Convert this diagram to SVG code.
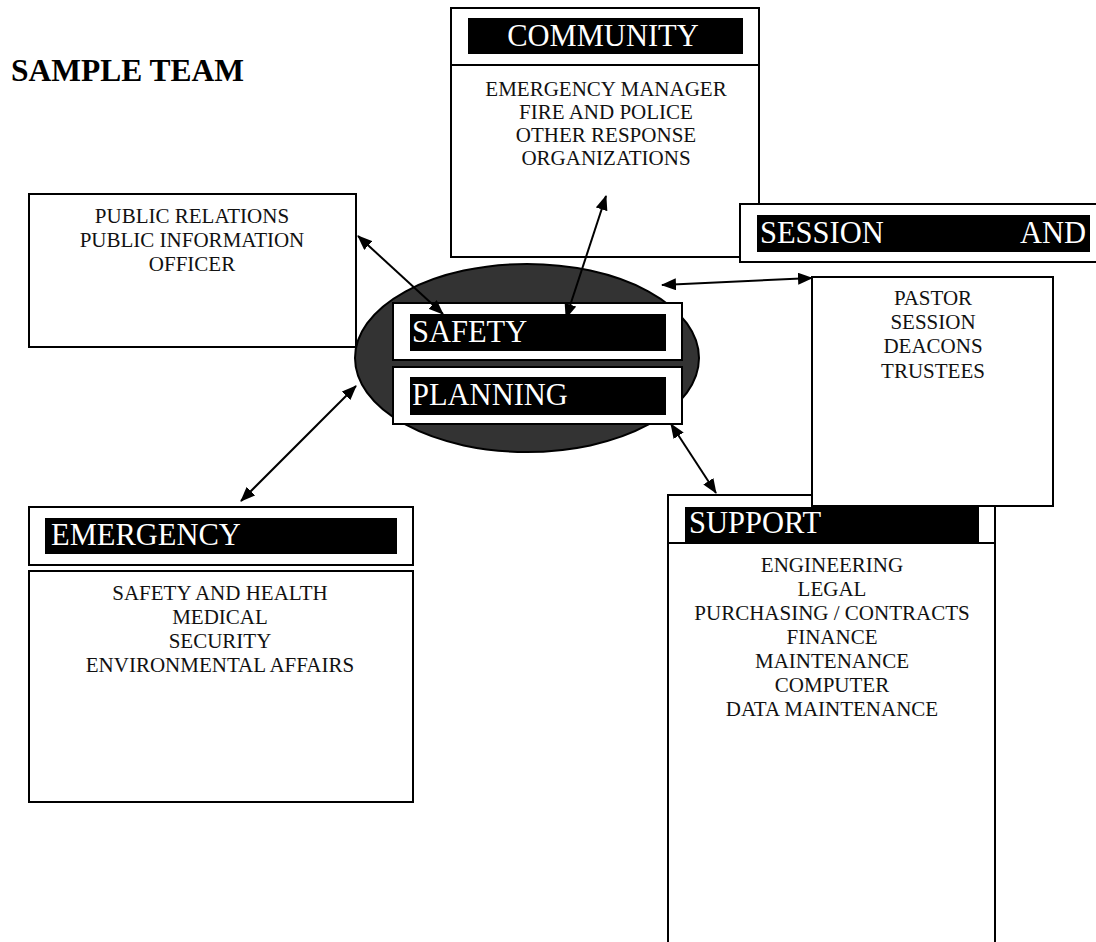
<svg xmlns="http://www.w3.org/2000/svg" width="1096" height="942" viewBox="0 0 1096 942">
<defs>
<style>
.box{fill:#fff;stroke:#000;stroke-width:2}
.band{fill:#000}
.hdr{font-family:"Liberation Serif",serif;font-size:30.5px;fill:#fff}
.body{font-family:"Liberation Serif",serif;font-size:21px;fill:#111;text-anchor:middle}
.title{font-family:"Liberation Serif",serif;font-size:31.5px;font-weight:bold;fill:#000}
.conn{stroke:#000;stroke-width:2;fill:none;marker-start:url(#ah);marker-end:url(#ah)}
</style>
<marker id="ah" markerUnits="userSpaceOnUse" markerWidth="15" markerHeight="12" refX="14" refY="6" orient="auto-start-reverse" viewBox="0 0 15 12">
<path d="M0,0 L15,6 L0,12 z" fill="#000"/>
</marker>
</defs>
<rect width="1096" height="942" fill="#fff"/>
<text class="title" x="11" y="81">SAMPLE TEAM</text>

<g id="community">
<rect class="box" x="451" y="8" width="308" height="57"/>
<rect class="box" x="451" y="65" width="308" height="192"/>
<rect class="band" x="468" y="18" width="275" height="36"/>
<text class="hdr" x="603" y="46" text-anchor="middle">COMMUNITY</text>
<text class="body" x="606" y="96">EMERGENCY MANAGER</text>
<text class="body" x="606" y="119">FIRE AND POLICE</text>
<text class="body" x="606" y="142">OTHER RESPONSE</text>
<text class="body" x="606" y="165">ORGANIZATIONS</text>
</g>

<g id="public-relations">
<rect class="box" x="29" y="194" width="327" height="153"/>
<text class="body" x="192" y="223">PUBLIC RELATIONS</text>
<text class="body" x="192" y="247">PUBLIC INFORMATION</text>
<text class="body" x="192" y="271">OFFICER</text>
</g>

<g id="session">
<rect class="box" x="740" y="204" width="370" height="58"/>
<rect class="band" x="757" y="215" width="333" height="37"/>
<text class="hdr" x="760" y="243">SESSION</text>
<text class="hdr" x="1086" y="243" text-anchor="end">AND</text>
</g>

<g id="safety-planning">
<ellipse cx="527" cy="358" rx="172" ry="94" fill="#333" stroke="#000" stroke-width="2"/>
<rect class="box" x="393" y="303" width="289" height="57"/>
<rect class="band" x="410" y="314" width="256" height="37"/>
<text class="hdr" x="412" y="342">SAFETY</text>
<rect class="box" x="393" y="367" width="289" height="57"/>
<rect class="band" x="410" y="377" width="256" height="38"/>
<text class="hdr" x="412" y="405">PLANNING</text>
</g>

<g id="emergency">
<rect class="box" x="29" y="507" width="384" height="58"/>
<rect class="band" x="45" y="518" width="352" height="36"/>
<text class="hdr" x="51" y="545">EMERGENCY</text>
<rect class="box" x="29" y="571" width="384" height="231"/>
<text class="body" x="220" y="600">SAFETY AND HEALTH</text>
<text class="body" x="220" y="624">MEDICAL</text>
<text class="body" x="220" y="648">SECURITY</text>
<text class="body" x="220" y="672">ENVIRONMENTAL AFFAIRS</text>
</g>

<g id="support">
<rect class="box" x="668" y="495" width="327" height="48"/>
<rect class="box" x="668" y="543" width="327" height="420"/>
<rect class="band" x="685" y="507" width="294" height="35"/>
<text class="hdr" x="689" y="533">SUPPORT</text>
<text class="body" x="832" y="572">ENGINEERING</text>
<text class="body" x="832" y="596">LEGAL</text>
<text class="body" x="832" y="620">PURCHASING / CONTRACTS</text>
<text class="body" x="832" y="644">FINANCE</text>
<text class="body" x="832" y="668">MAINTENANCE</text>
<text class="body" x="832" y="692">COMPUTER</text>
<text class="body" x="832" y="716">DATA MAINTENANCE</text>
</g>

<g id="pastor">
<rect class="box" x="812" y="277" width="241" height="229"/>
<text class="body" x="933" y="305">PASTOR</text>
<text class="body" x="933" y="329">SESSION</text>
<text class="body" x="933" y="353">DEACONS</text>
<text class="body" x="933" y="378">TRUSTEES</text>
</g>

<g id="connectors">
<line class="conn" x1="358" y1="236" x2="443" y2="314"/>
<line class="conn" x1="606" y1="196" x2="566" y2="318"/>
<line class="conn" x1="662" y1="285" x2="812" y2="278"/>
<line class="conn" x1="671" y1="424" x2="716" y2="493"/>
<line class="conn" x1="356" y1="386" x2="241" y2="501"/>
</g>
</svg>
